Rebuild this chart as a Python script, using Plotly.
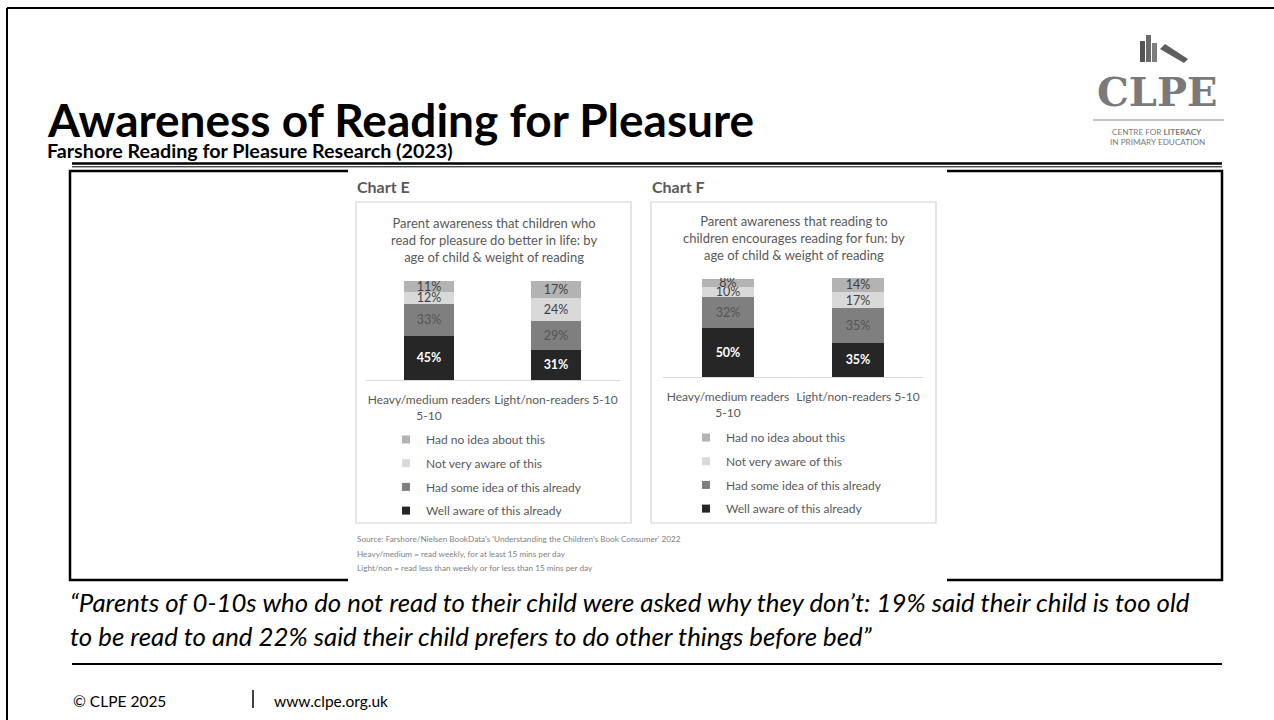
import plotly.graph_objects as go

W, H = 1274, 720

# ---- data -------------------------------------------------------------
categories = ["Heavy/medium readers<br>5-10", "Light/non-readers 5-10"]
legend_names = [
    "Well aware of this already",
    "Had some idea of this already",
    "Not very aware of this",
    "Had no idea about this",
]

# Chart E: children who read for pleasure do better in life
e_well_aware = [45, 31]
e_some_idea = [33, 29]
e_not_very_aware = [12, 24]
e_no_idea = [11, 17]

# Chart F: reading to children encourages reading for fun
f_well_aware = [50, 35]
f_some_idea = [32, 35]
f_not_very_aware = [10, 17]
f_no_idea = [8, 14]

seg_colors = ["#262626", "#7f7f7f", "#d9d9d9", "#b3b3b3"]
label_colors = ["#ffffff", "#555555", "#404040", "#404040"]
label_weights = ["bold", "normal", "normal", "normal"]

FONT = "Lato"


def fx(x):
    return x / W


def fy(y):
    return 1 - y / H


fig = go.Figure()


def add_chart(series, xa, ya, legend_id, tag):
    # stacked segments, bottom to top
    for vals, name, col, tcol, tw in zip(series, legend_names, seg_colors,
                                         label_colors, label_weights):
        fig.add_trace(go.Bar(
            x=categories, y=vals, name=name, xaxis=xa, yaxis=ya,
            marker=dict(color=col, line=dict(width=0)),
            text=[f"{v}%" for v in vals], textposition="inside",
            insidetextanchor="middle", textangle=0, constraintext="none",
            textfont=dict(family=FONT, size=12.5, color=tcol, weight=tw),
            showlegend=False, hoverinfo="skip",
        ))
    # square swatches for the legend, listed top segment first
    pairs = list(zip(legend_names, seg_colors))[::-1]
    for i, (name, col) in enumerate(pairs):
        fig.add_trace(go.Scatter(
            x=[None], y=[None], mode="markers", name=name,
            xaxis=xa, yaxis=ya, legend=legend_id, legendgroup=f"{tag}{i}",
            marker=dict(symbol="square", size=8, color=col),
            hoverinfo="skip",
        ))


add_chart([e_well_aware, e_some_idea, e_not_very_aware, e_no_idea], "x", "y", "legend", "e")
add_chart([f_well_aware, f_some_idea, f_not_very_aware, f_no_idea], "x2", "y2", "legend2", "f")

xcommon = dict(type="category", showgrid=False, zeroline=False, showline=True,
               linecolor="#d9d9d9", linewidth=1, ticks="", fixedrange=True,
               tickfont=dict(family=FONT, size=12, color="#595959"),
               ticklabelstandoff=9)
ycommon = dict(visible=False, range=[0, 101], fixedrange=True)

legend_common = dict(
    xanchor="left", yanchor="top", traceorder="grouped",
    tracegroupgap=4.7, bgcolor="rgba(0,0,0,0)", borderwidth=0,
    font=dict(family=FONT, size=12, color="#595959"),
)

# ---- static slide furniture ------------------------------------------
shapes = []


def line(x0, y0, x1, y1, w=2, color="#000000"):
    shapes.append(dict(type="line", xref="paper", yref="paper",
                       x0=fx(x0), y0=fy(y0), x1=fx(x1), y1=fy(y1),
                       line=dict(color=color, width=w), layer="below"))


def rect(x0, y0, x1, y1, fill=None, lc=None, w=0):
    shapes.append(dict(type="rect", xref="paper", yref="paper",
                       x0=fx(x0), y0=fy(y0), x1=fx(x1), y1=fy(y1),
                       fillcolor=fill or "rgba(0,0,0,0)",
                       line=dict(color=lc or "rgba(0,0,0,0)", width=w),
                       layer="below"))


# slide frame
line(7, 8, 7, 720, 2)
line(7, 8, 1274, 8, 2)
# header double rule
line(72, 163.5, 1222, 163.5, 2.5)
line(72, 166.8, 1222, 166.8, 1)
# picture frame, with the chart picture laid over it
rect(70, 171, 1222, 580, lc="#000000", w=2.5)
rect(348, 169, 947, 582, fill="#ffffff")
# chart panels
rect(356, 202, 631, 523, lc="#d4d4d4", w=1.2)
rect(651, 202, 936, 523, lc="#d4d4d4", w=1.2)
# rule above footer
line(72, 664, 1222, 664, 2)
# footer separator
line(253, 690, 253, 708, 1.5)

# logo: books and rule
rect(1140, 41, 1145, 62, fill="#555555")
rect(1146, 35, 1151, 62, fill="#6b6b6b")
rect(1152, 43, 1157, 62, fill="#7d7d7d")
shapes.append(dict(type="path", xref="paper", yref="paper",
                   path=f"M{fx(1160)},{fy(49)} L{fx(1165)},{fy(44)} "
                        f"L{fx(1188)},{fy(59)} L{fx(1184)},{fy(63)} Z",
                   fillcolor="#5e5e5e", line=dict(width=0), layer="below"))
line(1093, 120, 1224, 120, 2, "#c4c4c4")

annotations = []


def text(x, y, s, size, color="#000000", anchor="left", family=FONT,
         weight="normal", style="normal", valign="middle"):
    annotations.append(dict(
        x=fx(x), y=fy(y), xref="paper", yref="paper", text=s, showarrow=False,
        xanchor=anchor, yanchor=valign, borderpad=0,
        align=anchor if anchor != "center" else "center",
        font=dict(family=family, size=size, color=color, weight=weight, style=style),
    ))


text(46, 120, "Awareness of Reading for Pleasure", 46, weight="bold")
text(46, 150.5, "Farshore Reading for Pleasure Research (2023)", 19.7, weight="bold")

text(1157, 91, "CLPE", 40, color="#7a7a7a", anchor="center",
     family="DejaVu Serif", weight="bold")
text(1157, 132, "CENTRE FOR <b>LITERACY</b>", 8.2, color="#7a7a7a", anchor="center")
text(1157, 142, "IN PRIMARY EDUCATION", 8.2, color="#7a7a7a", anchor="center")

text(356, 187, "Chart E", 16, color="#595959", weight="bold")
text(651, 187, "Chart F", 16, color="#595959", weight="bold")

text(493.5, 240, "Parent awareness that children who<br>read for pleasure do better in life: by<br>"
     "age of child &amp; weight of reading", 13, color="#595959", anchor="center")
text(793.5, 238, "Parent awareness that reading to<br>children encourages reading for fun: by<br>"
     "age of child &amp; weight of reading", 13, color="#595959", anchor="center")

text(356, 539, "Source: Farshore/Nielsen BookData's 'Understanding the Children's Book Consumer' 2022",
     8.2, color="#7f7f7f")
text(356, 554, "Heavy/medium = read weekly, for at least 15 mins per day", 8.2, color="#7f7f7f")
text(356, 568, "Light/non = read less than weekly or for less than 15 mins per day", 8.2, color="#7f7f7f")

text(69, 619, "“Parents of 0-10s who do not read to their child were asked why they don’t: "
     "19% said their child is too old<br>to be read to and 22% said their child prefers to do "
     "other things before bed”", 25.8, style="italic")

text(72, 701, "© CLPE 2025", 15.5)
text(273, 701, "www.clpe.org.uk", 15.5)

fig.update_layout(
    width=W, height=H, margin=dict(l=0, r=0, t=0, b=0),
    paper_bgcolor="#ffffff", plot_bgcolor="rgba(0,0,0,0)",
    barmode="stack", bargap=0.6,
    xaxis=dict(domain=[fx(365.5), fx(619.5)], anchor="y", **xcommon),
    yaxis=dict(domain=[fy(380), fy(281)], anchor="x", **ycommon),
    xaxis2=dict(domain=[fx(663), fx(923)], anchor="y2", **xcommon),
    yaxis2=dict(domain=[fy(377), fy(278)], anchor="x2", **ycommon),
    legend=dict(x=fx(386), y=fy(425), **legend_common),
    legend2=dict(x=fx(686), y=fy(423), **legend_common),
    shapes=shapes, annotations=annotations,
    showlegend=True,
)

fig.write_html("out.html")
